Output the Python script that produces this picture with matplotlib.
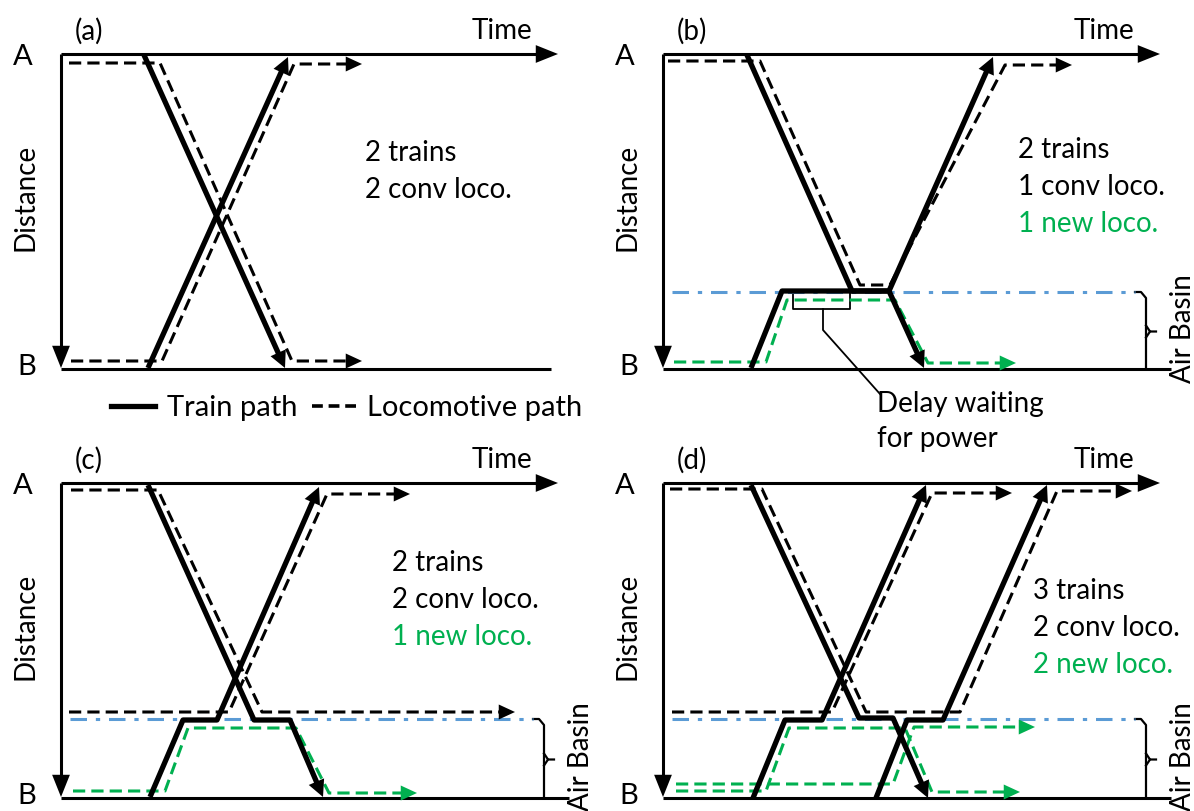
import matplotlib
matplotlib.use("Agg")
import matplotlib.pyplot as plt
from matplotlib.lines import Line2D
from matplotlib.patches import FancyArrowPatch
import numpy as np

plt.rcParams['font.family'] = ['Lato', 'DejaVu Sans']

# panel geometry in figure pixels (left axis x, top axis y)
W, H = 1194, 811
PW, PH = 500, 315
panels = {'a': (61, 54), 'b': (663, 54), 'c': (61, 483), 'd': (663, 483)}

BLACK = '#000000'
GREEN = '#00B050'
BLUE = '#5B9BD5'
FS = 20

# ---- data: (time, distance) vertices of each path, distance 0 = A, 315 = B ----
# panel (a)
a_train_down = [(83, 1), (224, 314)]
a_train_up = [(87, 314), (227, 3)]
a_loco_down = [(8, 9), (99, 9), (231, 307), (301, 307)]
a_loco_up = [(10, 307), (101, 307), (233, 10), (301, 10)]
a_notes = ['2 trains', '2 conv loco.']

# panel (b)
b_train_1 = [(84, 1), (189, 237), (226, 237), (261, 314)]
b_train_2 = [(88, 314), (119, 237), (226, 237), (330, 3)]
b_conv_loco = [(5, 7), (97, 7), (197, 231), (227, 231), (342, 11), (409, 11)]
b_new_loco = [(11, 308), (103, 308), (124, 246), (232, 246), (265, 309), (353, 309)]
b_basin = 238
b_notes = ['2 trains', '1 conv loco.', '1 new loco.']

# panel (c)
c_train_1 = [(87, 2), (193, 237), (229, 237), (262, 314)]
c_train_2 = [(89, 314), (122, 237), (156, 237), (258, 4)]
c_conv_loco_1 = [(10, 7), (97, 7), (201, 229), (454, 229)]
c_conv_loco_2 = [(8, 229), (168, 229), (266, 11), (349, 11)]
c_new_loco = [(12, 308), (104, 308), (127, 245), (235, 245), (268, 310), (356, 310)]
c_basin = 236
c_notes = ['2 trains', '2 conv loco.', '1 new loco.']

# panel (d)
d_train_1 = [(88, 2), (196, 235), (230, 235), (265, 315)]
d_train_2 = [(90, 315), (122, 237), (159, 237), (263, 2)]
d_train_3 = [(213, 315), (244, 237), (280, 237), (384, 2)]
d_conv_loco_1 = [(7, 6), (99, 6), (203, 229), (297, 229), (394, 8), (469, 8)]
d_conv_loco_2 = [(9, 229), (169, 229), (269, 10), (349, 10)]
d_new_loco_1 = [(13, 308), (103, 308), (126, 245), (242, 245), (269, 309), (357, 309)]
d_new_loco_2 = [(13, 301), (230, 301), (251, 244), (372, 244)]
d_basin = 236
d_notes = ['3 trains', '2 conv loco.', '2 new loco.']


fig = plt.figure(figsize=(W / 100, H / 100), dpi=100)


def make_ax(key):
    x0, y0 = panels[key]
    ax = fig.add_axes([x0 / W, 1 - (y0 + PH) / H, PW / W, PH / H])
    ax.set_xlim(0, PW)
    ax.set_ylim(PH, 0)
    ax.axis('off')
    return ax


def head(ax, p0, p1, color, hl=0.55, hw=0.28, ms=20):
    p0 = np.array(p0, float)
    p1 = np.array(p1, float)
    u = (p1 - p0) / np.hypot(*(p1 - p0))
    ar = FancyArrowPatch(p1 - 0.5 * u, p1,
                         arrowstyle='-|>,head_length=%s,head_width=%s' % (hl, hw),
                         mutation_scale=ms, color=color, lw=0,
                         shrinkA=0, shrinkB=0, clip_on=False, zorder=5)
    ax.add_patch(ar)


def path(ax, pts, color=BLACK, lw=3.6, ls='-', arrow=True, hl=0.55, hw=0.28, ms=20):
    pts = np.array(pts, float)
    xs, ys = pts[:, 0].copy(), pts[:, 1].copy()
    if arrow:
        u = pts[-1] - pts[-2]
        u = u / np.hypot(*u)
        cut = hl * ms * 1.389 * 0.8
        xs[-1] -= u[0] * cut
        ys[-1] -= u[1] * cut
    ax.plot(xs, ys, color=color, lw=lw, ls=ls, solid_capstyle='butt',
            dash_capstyle='butt', clip_on=False, zorder=4)
    if arrow:
        head(ax, pts[-2], pts[-1], color, hl, hw, ms)


def train(ax, pts):
    path(ax, pts, BLACK, lw=3.8, hl=0.6, hw=0.3, ms=20)


def loco(ax, pts, color=BLACK):
    path(ax, pts, color, lw=2.2, ls=(0, (4, 2)), hl=0.65, hw=0.3, ms=18)


def frame(ax, label, basin=None):
    # time axis
    ax.plot([0, 485], [0, 0], color=BLACK, lw=2.2, clip_on=False, solid_capstyle='butt')
    head(ax, (0, 0), (497, 0), BLACK, 0.8, 0.32, 20)
    # distance axis
    ax.plot([0, 0], [0, 300], color=BLACK, lw=2.2, clip_on=False, solid_capstyle='butt')
    head(ax, (0, 0), (0, 314), BLACK, 0.8, 0.32, 20)
    # B line
    ax.plot([0, 508 if basin else 490], [315, 315], color=BLACK, lw=2.2, clip_on=False,
            solid_capstyle='butt')
    ax.text(-38, 3, 'A', fontsize=FS + 1, ha='center', va='center')
    ax.text(-34, 313, 'B', fontsize=FS + 1, ha='center', va='center')
    ax.text(-35, 143, 'Distance', fontsize=FS, ha='center', va='center', rotation=90)
    ax.text(14, -23, label, fontsize=FS, ha='left', va='center')
    ax.text(441, -23, 'Time', fontsize=FS, ha='center', va='center')
    if basin is not None:
        ax.plot([9, 472], [basin, basin], color=BLUE, lw=2.2,
                ls=(0, (5.4, 2.9, 1.4, 2.9)), clip_on=False, zorder=3)
        bx = 483
        ax.plot([472, bx - 5, bx, bx], [basin, basin, basin + 6, 315],
                color=BLACK, lw=1.6, clip_on=False)
        mid = (basin + 315) / 2 + 1
        ax.plot([bx, bx + 4, bx + 10], [mid - 6, mid, mid], color=BLACK, lw=1.6, clip_on=False)
        ax.plot([bx, bx + 4], [mid + 6, mid], color=BLACK, lw=1.6, clip_on=False)
        ax.text(520, mid - 3, 'Air Basin', fontsize=FS, ha='center', va='center',
                rotation=90, clip_on=False)


def notes(ax, x, y, lines):
    for i, s in enumerate(lines):
        col = GREEN if 'new' in s else BLACK
        ax.text(x, y + 37 * i, s, fontsize=FS, ha='left', va='center', color=col)


# (a)
ax = make_ax('a')
frame(ax, '(a)')
loco(ax, a_loco_down)
loco(ax, a_loco_up)
train(ax, a_train_down)
train(ax, a_train_up)
notes(ax, 304, 99, a_notes)

# (b)
ax = make_ax('b')
frame(ax, '(b)', b_basin)
loco(ax, b_conv_loco)
loco(ax, b_new_loco, GREEN)
train(ax, b_train_1)
train(ax, b_train_2)
notes(ax, 355, 96, b_notes)
# delay bracket
ax.plot([130, 130, 187, 187], [237, 255, 255, 237], color=BLACK, lw=1.3, clip_on=False)
ax.plot([160, 160, 217], [255, 276, 340], color=BLACK, lw=1.3, clip_on=False)
ax.text(214, 350, 'Delay waiting', fontsize=FS, ha='left', va='center')
ax.text(214, 385, 'for power', fontsize=FS, ha='left', va='center')

# (c)
ax = make_ax('c')
frame(ax, '(c)', c_basin)
loco(ax, c_conv_loco_1)
loco(ax, c_conv_loco_2)
loco(ax, c_new_loco, GREEN)
train(ax, c_train_1)
train(ax, c_train_2)
notes(ax, 331, 80, c_notes)

# (d)
ax = make_ax('d')
frame(ax, '(d)', d_basin)
loco(ax, d_conv_loco_1)
loco(ax, d_conv_loco_2)
loco(ax, d_new_loco_1, GREEN)
loco(ax, d_new_loco_2, GREEN)
train(ax, d_train_1)
train(ax, d_train_2)
train(ax, d_train_3)
notes(ax, 370, 108, d_notes)

# legend
handles = [Line2D([], [], color=BLACK, lw=3.8),
           Line2D([], [], color=BLACK, lw=2.6, ls=(0, (3, 1.6)))]
fig.legend(handles, ['Train path', 'Locomotive path'], loc='center',
           bbox_to_anchor=(347 / W, 1 - 408 / H), ncol=2, frameon=False,
           fontsize=FS + 1, handlelength=1.5, handletextpad=0.4, columnspacing=0.5)

fig.savefig('out.png', dpi=100)
